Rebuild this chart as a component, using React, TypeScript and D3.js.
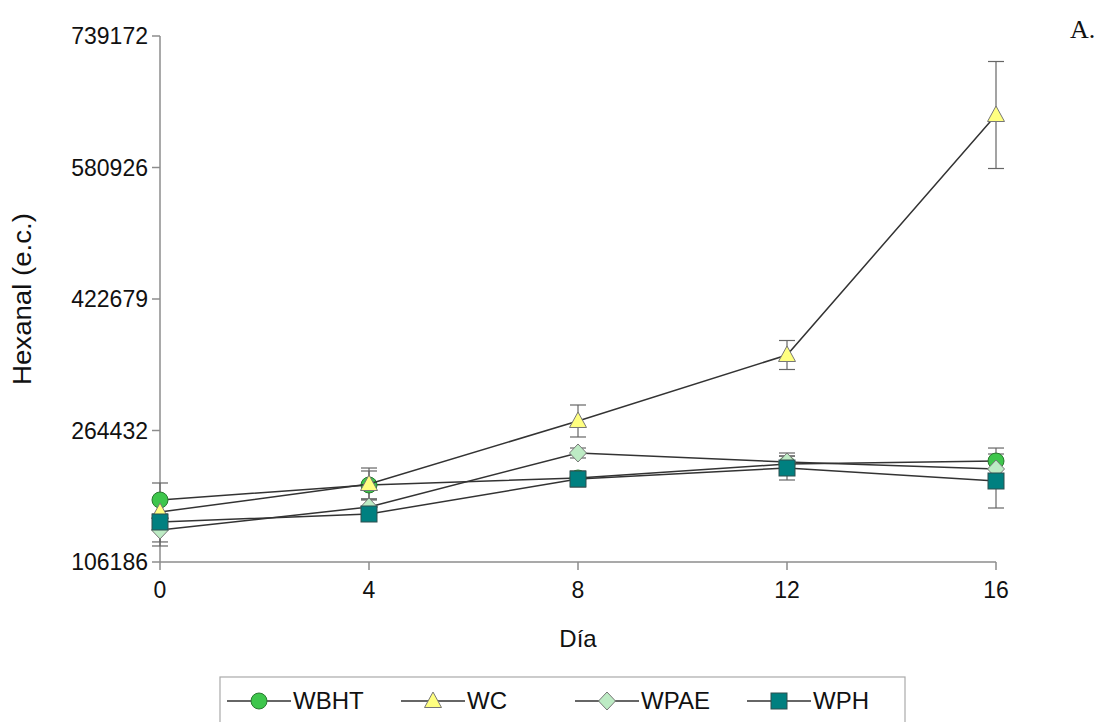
import React from 'react';
import * as d3 from 'd3';

const days = [0, 4, 8, 12, 16];
const yTicks = [106186, 264432, 422679, 580926, 739172];

const wbht = [180800, 198850, 207270, 224100, 227700];
const wbhtErr = [20460, 16850, 7220, 9600, 15640];
const wc = [166350, 200050, 275870, 355290, 644100];
const wcErr = [12030, 19250, 19250, 17450, 64380];
const wpae = [144700, 172370, 237360, 226530, 218100];
const wpaeErr = [19250, 9630, 6000, 10830, 9600];
const wph = [154320, 163950, 206070, 219300, 203660];
const wphErr = [24000, 6000, 9630, 14440, 32490];

const series = [
  { name: 'WBHT', values: wbht, err: wbhtErr, shape: 'circle', fill: '#3ec64c', stroke: '#2a7a30' },
  { name: 'WC', values: wc, err: wcErr, shape: 'triangle', fill: '#ffff80', stroke: '#777777' },
  { name: 'WPAE', values: wpae, err: wpaeErr, shape: 'diamond', fill: '#bdebc4', stroke: '#777777' },
  { name: 'WPH', values: wph, err: wphErr, shape: 'square', fill: '#008080', stroke: '#2f4f4f' },
];

const FONT = 'Liberation Sans, Arial, sans-serif';

function marker(shape, x, y, fill, stroke, key) {
  if (shape === 'circle') {
    return <circle key={key} cx={x} cy={y} r={8} fill={fill} stroke={stroke} strokeWidth={1} />;
  }
  if (shape === 'triangle') {
    const p = `${x},${y - 9} ${x - 8.5},${y + 6.5} ${x + 8.5},${y + 6.5}`;
    return <polygon key={key} points={p} fill={fill} stroke={stroke} strokeWidth={1} />;
  }
  if (shape === 'diamond') {
    const p = `${x},${y - 9} ${x + 8.5},${y} ${x},${y + 9} ${x - 8.5},${y}`;
    return <polygon key={key} points={p} fill={fill} stroke={stroke} strokeWidth={1} />;
  }
  return <rect key={key} x={x - 8} y={y - 8} width={16} height={16} fill={fill} stroke={stroke} strokeWidth={1} />;
}

export default function App() {
  const width = 1102;
  const height = 722;
  const x = d3.scaleLinear().domain([0, 16]).range([160, 996]);
  const y = d3.scaleLinear().domain([106186, 739172]).range([562, 36]);
  const line = d3.line().x((d) => x(d[0])).y((d) => y(d[1]));

  // legend positions (marker x)
  const legendX = [259, 433, 607, 779];

  return (
    <svg width={width} height={height} style={{ position: 'absolute', left: 0, top: 0 }}>
      <rect width={width} height={height} fill="#fff" />
      {/* axes */}
      <line x1={160} x2={160} y1={36} y2={562} stroke="#8c8c8c" strokeWidth={1.5} />
      <line x1={160} x2={x(16)} y1={562} y2={562} stroke="#8c8c8c" strokeWidth={1.5} />
      {yTicks.map((t) => (
        <g key={t}>
          <line x1={152} x2={160} y1={y(t)} y2={y(t)} stroke="#8c8c8c" strokeWidth={1.5} />
          <text x={148} y={y(t)} dy="0.36em" textAnchor="end" fontFamily={FONT} fontSize={23} fill="#111">{t}</text>
        </g>
      ))}
      {days.map((d) => (
        <g key={d}>
          <line x1={x(d)} x2={x(d)} y1={562} y2={570} stroke="#8c8c8c" strokeWidth={1.5} />
          <text x={x(d)} y={598} textAnchor="middle" fontFamily={FONT} fontSize={23} fill="#111">{d}</text>
        </g>
      ))}
      <text x={578} y={647} textAnchor="middle" fontFamily={FONT} fontSize={24} fill="#111">Día</text>
      <text transform="translate(31,299) rotate(-90)" textAnchor="middle" fontFamily={FONT} fontSize={25}
        textLength={172} lengthAdjust="spacingAndGlyphs" fill="#111">Hexanal (e.c.)</text>
      <text x={1070} y={38} fontFamily="Liberation Serif, Times New Roman, serif" fontSize={26} fill="#111">A.</text>

      {/* error bars */}
      {series.map((s) => (
        <g key={s.name + 'err'}>
          {s.values.map((v, i) => {
            const cx = x(days[i]);
            const y1 = y(v + s.err[i]);
            const y2 = y(v - s.err[i]);
            return (
              <g key={i} stroke="#666" strokeWidth={1.2}>
                <line x1={cx} x2={cx} y1={y1} y2={y2} />
                <line x1={cx - 8} x2={cx + 8} y1={y1} y2={y1} />
                <line x1={cx - 8} x2={cx + 8} y1={y2} y2={y2} />
              </g>
            );
          })}
        </g>
      ))}
      {/* lines and markers */}
      {series.map((s) => (
        <g key={s.name}>
          <path d={line(s.values.map((v, i) => [days[i], v]))} fill="none" stroke="#333" strokeWidth={1.5} />
          {s.values.map((v, i) => marker(s.shape, x(days[i]), y(v), s.fill, s.stroke, i))}
        </g>
      ))}

      {/* legend */}
      <rect x={220} y={677} width={685} height={60} fill="#fff" stroke="#aaa" strokeWidth={1.2} />
      {series.map((s, i) => (
        <g key={s.name + 'leg'}>
          <line x1={legendX[i] - 32} x2={legendX[i] + 32} y1={701} y2={701} stroke="#333" strokeWidth={1.5} />
          {marker(s.shape, legendX[i], 701, s.fill, s.stroke, 'm')}
          <text x={legendX[i] + 34} y={709} fontFamily={FONT} fontSize={24} fill="#111">{s.name}</text>
        </g>
      ))}
    </svg>
  );
}
